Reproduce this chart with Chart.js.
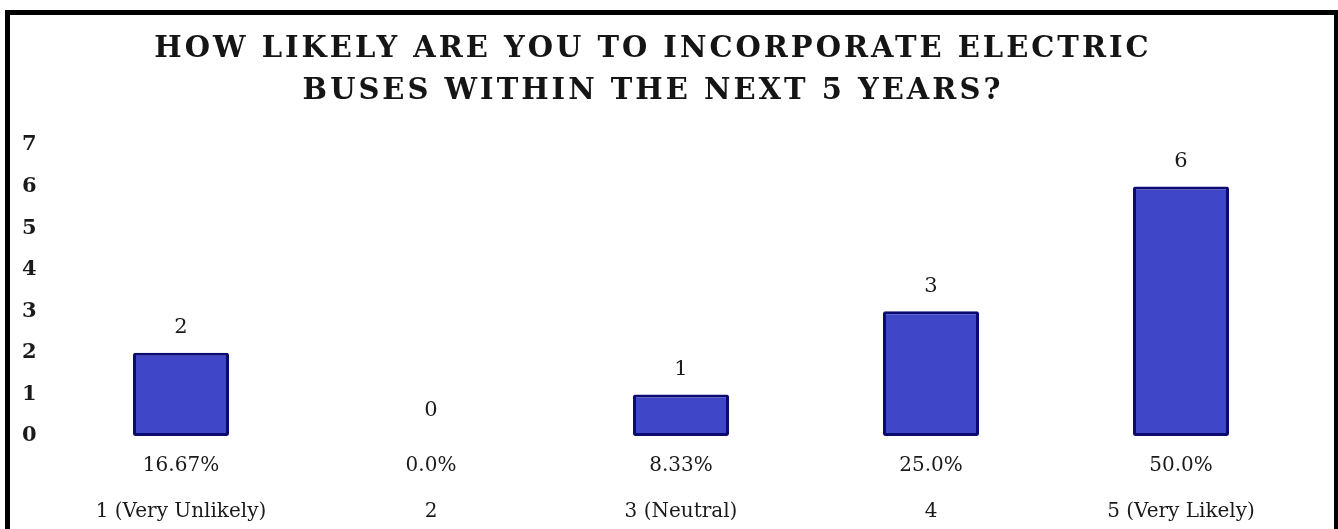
<!DOCTYPE html>
<html>
<head>
<meta charset="utf-8">
<script src="https://cdn.jsdelivr.net/npm/chart.js@4.4.1/dist/chart.umd.min.js"></script>
<style>
    html, body { margin: 0; padding: 0; background: #fff; }
    #wrap { position: relative; width: 1338px; height: 529px; overflow: hidden; }
    #frame {
        position: absolute; left: 5px; top: 10px; width: 1333px; height: 560px;
        box-sizing: border-box; border: 5px solid #000; border-right-width: 4px;
        pointer-events: none;
    }
    canvas { position: absolute; left: 0; top: 0; }
</style>
</head>
<body>
<div id="wrap">
    <canvas id="likelyChart" width="1338" height="529"></canvas>
    <div id="frame"></div>
</div>
<script>
const titleLines = ['HOW LIKELY ARE YOU TO INCORPORATE ELECTRIC', 'BUSES WITHIN THE NEXT 5 YEARS?'];
const categories = ['1 (Very Unlikely)', '2', '3 (Neutral)', '4', '5 (Very Likely)'];
const responses = [2, 0, 1, 3, 6];
const shares = ['16.67%', '0.0%', '8.33%', '25.0%', '50.0%'];
const yTicks = [0, 1, 2, 3, 4, 5, 6, 7];

const serif = "'DejaVu Serif', 'Liberation Serif', serif";

// value above each bar
const valueLabels = {
    id: 'valueLabels',
    afterDatasetsDraw(chart) {
        const ctx = chart.ctx;
        const meta = chart.getDatasetMeta(0);
        ctx.save();
        ctx.font = `21px ${serif}`;
        ctx.fillStyle = '#1a1a1a';
        ctx.textAlign = 'center';
        ctx.textBaseline = 'middle';
        meta.data.forEach((bar, i) => {
            ctx.fillText(String(responses[i]), bar.x, bar.y - 25);
        });
        ctx.restore();
    }
};

// spaced-out two line title
const spacedTitle = {
    id: 'spacedTitle',
    afterDraw(chart) {
        const ctx = chart.ctx;
        ctx.save();
        ctx.font = `bold 29px ${serif}`;
        ctx.fillStyle = '#151515';
        ctx.textAlign = 'center';
        ctx.textBaseline = 'middle';
        ctx.letterSpacing = '3px';
        titleLines.forEach((line, i) => {
            ctx.fillText(line, 653, 49 + i * 42);
        });
        ctx.restore();
    }
};

const ctx = document.getElementById('likelyChart').getContext('2d');
new Chart(ctx, {
    type: 'bar',
    data: {
        labels: categories.map((c, i) => [shares[i], c]),
        datasets: [{
            data: responses,
            backgroundColor: '#3f47c8',
            borderColor: '#0a0a70',
            borderWidth: 3,
            borderRadius: 2,
            borderSkipped: false,
            barPercentage: 0.96,
            categoryPercentage: 0.4
        }]
    },
    options: {
        responsive: false,
        animation: false,
        layout: { padding: { left: 22, right: 32, top: 145, bottom: 0 } },
        plugins: {
            legend: { display: false },
            title: { display: false },
            tooltip: { enabled: false }
        },
        scales: {
            x: {
                grid: { display: false, drawTicks: false },
                border: { display: false },
                ticks: {
                    padding: 7,
                    color: '#1a1a1a',
                    maxRotation: 0,
                    autoSkip: false,
                    font: { family: serif, size: 20, lineHeight: 2.3 }
                },
                afterFit(scale) { scale.height = 93; }
            },
            y: {
                min: yTicks[0],
                max: yTicks[yTicks.length - 1],
                grid: { display: false, drawTicks: false },
                border: { display: false },
                afterBuildTicks(scale) {
                    scale.ticks = yTicks.map(v => ({ value: v }));
                },
                ticks: {
                    crossAlign: 'far',
                    color: '#1a1a1a',
                    font: { family: serif, size: 21, weight: 'bold' }
                },
                afterFit(scale) { scale.width = 34; }
            }
        }
    },
    plugins: [valueLabels, spacedTitle]
});
</script>
</body>
</html>
